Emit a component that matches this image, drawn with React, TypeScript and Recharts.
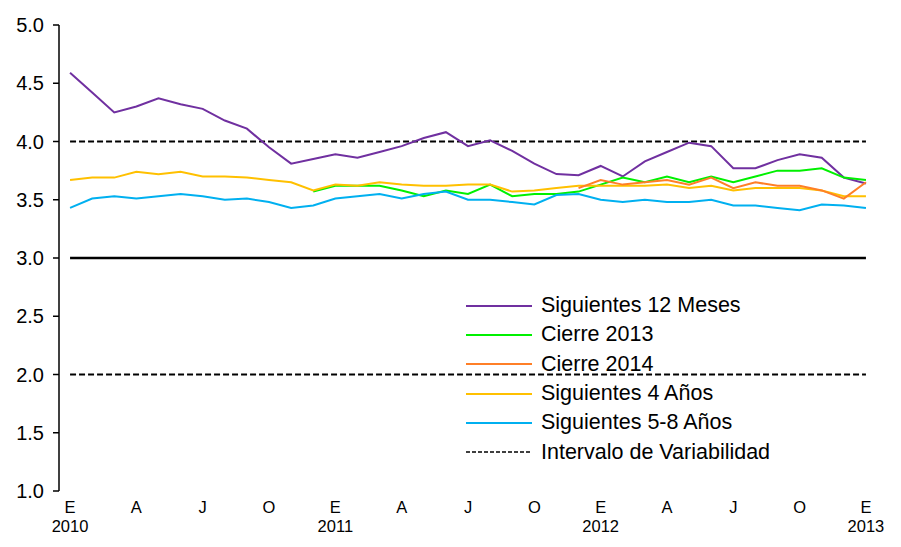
import React from 'react';
import { LineChart, Line, XAxis, YAxis } from 'recharts';

// Monthly categories, Jan 2010 .. Jan 2013
const months = [
  '2010-01','2010-02','2010-03','2010-04','2010-05','2010-06','2010-07','2010-08','2010-09','2010-10','2010-11','2010-12',
  '2011-01','2011-02','2011-03','2011-04','2011-05','2011-06','2011-07','2011-08','2011-09','2011-10','2011-11','2011-12',
  '2012-01','2012-02','2012-03','2012-04','2012-05','2012-06','2012-07','2012-08','2012-09','2012-10','2012-11','2012-12',
  '2013-01',
];

const siguientes12Meses = [
  4.59, 4.42, 4.25, 4.30, 4.37, 4.32, 4.28, 4.18, 4.11, 3.95, 3.81, 3.85,
  3.89, 3.86, 3.91, 3.96, 4.03, 4.08, 3.96, 4.01, 3.92, 3.81, 3.72, 3.71,
  3.79, 3.70, 3.83, 3.91, 3.99, 3.96, 3.77, 3.77, 3.84, 3.89, 3.86, 3.69,
  3.64,
];
const cierre2013 = [
  null, null, null, null, null, null, null, null, null, null, null, 3.57,
  3.62, 3.62, 3.62, 3.58, 3.53, 3.58, 3.55, 3.63, 3.53, 3.55, 3.55, 3.57,
  3.63, 3.69, 3.65, 3.70, 3.65, 3.70, 3.65, 3.70, 3.75, 3.75, 3.77, 3.69,
  3.67,
];
const cierre2014 = [
  null, null, null, null, null, null, null, null, null, null, null, null,
  null, null, null, null, null, null, null, null, null, null, null, 3.60,
  3.67, 3.63, 3.65, 3.67, 3.63, 3.69, 3.60, 3.65, 3.62, 3.62, 3.58, 3.51,
  3.65,
];
const siguientes4Anos = [
  3.67, 3.69, 3.69, 3.74, 3.72, 3.74, 3.70, 3.70, 3.69, 3.67, 3.65, 3.58,
  3.63, 3.62, 3.65, 3.63, 3.62, 3.62, 3.63, 3.63, 3.57, 3.58, 3.60, 3.62,
  3.62, 3.62, 3.62, 3.63, 3.60, 3.62, 3.58, 3.60, 3.60, 3.60, 3.58, 3.53,
  3.53,
];
const siguientes5a8Anos = [
  3.43, 3.51, 3.53, 3.51, 3.53, 3.55, 3.53, 3.50, 3.51, 3.48, 3.43, 3.45,
  3.51, 3.53, 3.55, 3.51, 3.55, 3.57, 3.50, 3.50, 3.48, 3.46, 3.54, 3.55,
  3.50, 3.48, 3.50, 3.48, 3.48, 3.50, 3.45, 3.45, 3.43, 3.41, 3.46, 3.45,
  3.43,
];

const metaInflacion = 3.0;
const intervaloSuperior = 4.0;
const intervaloInferior = 2.0;

const yTicks = [1.0, 1.5, 2.0, 2.5, 3.0, 3.5, 4.0, 4.5, 5.0];
const tickMarkPositions = [-0.5, 2.5, 5.5, 8.5, 11.5, 14.5, 17.5, 20.5, 23.5, 26.5, 29.5, 32.5, 35.5];
const labelPositions = [0, 3, 6, 9, 12, 15, 18, 21, 24, 27, 30, 33, 36];
const monthLabels = ['E', 'A', 'J', 'O', 'E', 'A', 'J', 'O', 'E', 'A', 'J', 'O', 'E'];
const yearLabels = ['2010', '', '', '', '2011', '', '', '', '2012', '', '', '', '2013'];

const data = months.map((m, i) => ({
  i,
  month: m,
  s12: siguientes12Meses[i],
  c13: cierre2013[i],
  c14: cierre2014[i],
  s4: siguientes4Anos[i],
  s58: siguientes5a8Anos[i],
  meta: metaInflacion,
  sup: intervaloSuperior,
  inf: intervaloInferior,
}));

const FONT = '"Liberation Sans", Arial, sans-serif';

const legendItems = [
  { name: 'Siguientes 12 Meses', color: '#7030A0', dash: undefined },
  { name: 'Cierre 2013', color: '#00F000', dash: undefined },
  { name: 'Cierre 2014', color: '#FF7F27', dash: undefined },
  { name: 'Siguientes 4 Años', color: '#FFC000', dash: undefined },
  { name: 'Siguientes 5-8 Años', color: '#00B0F0', dash: undefined },
  { name: 'Intervalo de Variabilidad', color: '#000000', dash: '4 2' },
];

const EmptyTick = () => <g />;

const MonthTick = (props: any) => {
  const { x, y, payload } = props;
  const k = labelPositions.indexOf(payload.value);
  return (
    <g>
      <text x={x} y={y + 22} textAnchor="middle" fontSize={16.5} fontFamily={FONT} fill="#000">
        {monthLabels[k]}
      </text>
      {yearLabels[k] ? (
        <text x={x} y={y + 41} textAnchor="middle" fontSize={16.5} fontFamily={FONT} fill="#000">
          {yearLabels[k]}
        </text>
      ) : null}
    </g>
  );
};

export default function App() {
  return (
    <div style={{ position: 'relative', width: 893, height: 539, fontFamily: FONT }}>
      <style>{'body{overflow:hidden}'}</style>
      <LineChart
        width={893}
        height={539}
        data={data}
        margin={{ top: 17, right: 24, bottom: 0, left: 0 }}
      >
        <XAxis
          xAxisId="ticks"
          dataKey="i"
          type="number"
          domain={[-0.5, 36.5]}
          allowDataOverflow
          ticks={tickMarkPositions}
          interval={0}
          tick={<EmptyTick />}
          tickSize={7}
          tickLine={{ stroke: '#000', strokeWidth: 1.5 }}
          axisLine={{ stroke: '#000', strokeWidth: 1.5 }}
          height={0}
        />
        <XAxis
          xAxisId="labels"
          dataKey="i"
          type="number"
          domain={[-0.5, 36.5]}
          allowDataOverflow
          ticks={labelPositions}
          interval={0}
          tick={<MonthTick />}
          tickLine={false}
          axisLine={false}
          tickSize={0}
          tickMargin={0}
          height={56}
        />
        <YAxis
          yAxisId="y"
          type="number"
          domain={[1, 5]}
          ticks={yTicks}
          interval={0}
          width={51}
          tickSize={6}
          tickMargin={9}
          tickFormatter={(v: number) => v.toFixed(1)}
          tick={{ fill: '#000', fontSize: 20, fontFamily: FONT }}
          tickLine={{ stroke: '#000', strokeWidth: 1.5 }}
          axisLine={{ stroke: '#000', strokeWidth: 1.5 }}
        />
        <Line xAxisId="labels" yAxisId="y" dataKey="meta" stroke="#000" strokeWidth={2.5} dot={false} activeDot={false} isAnimationActive={false} />
        <Line xAxisId="labels" yAxisId="y" dataKey="sup" stroke="#000" strokeWidth={1.8} strokeDasharray="6 3" dot={false} activeDot={false} isAnimationActive={false} />
        <Line xAxisId="labels" yAxisId="y" dataKey="inf" stroke="#000" strokeWidth={1.8} strokeDasharray="6 3" dot={false} activeDot={false} isAnimationActive={false} />
        <Line xAxisId="labels" yAxisId="y" dataKey="s12" stroke="#7030A0" strokeWidth={2} dot={false} activeDot={false} isAnimationActive={false} />
        <Line xAxisId="labels" yAxisId="y" dataKey="c13" stroke="#00F000" strokeWidth={2} dot={false} activeDot={false} isAnimationActive={false} />
        <Line xAxisId="labels" yAxisId="y" dataKey="s4" stroke="#FFC000" strokeWidth={2} dot={false} activeDot={false} isAnimationActive={false} />
        <Line xAxisId="labels" yAxisId="y" dataKey="c14" stroke="#FF7F27" strokeWidth={2} dot={false} activeDot={false} isAnimationActive={false} />
        <Line xAxisId="labels" yAxisId="y" dataKey="s58" stroke="#00B0F0" strokeWidth={2} dot={false} activeDot={false} isAnimationActive={false} />
      </LineChart>
      <svg
        width={893}
        height={20}
        style={{ position: 'absolute', left: 0, top: -8, overflow: 'visible', pointerEvents: 'none' }}
      >
        <text x={450} y={6} textAnchor="middle" fontSize={17} fontWeight="bold" fill="#1F3864" fontFamily={FONT}>
          Por ciento
        </text>
      </svg>
      <div style={{ position: 'absolute', left: 458, top: 283, pointerEvents: 'none' }}>
        {legendItems.map((it) => (
          <div key={it.name} style={{ display: 'flex', alignItems: 'center', height: 29.3 }}>
            <svg width={75} height={10} style={{ display: 'block' }}>
              <line x1={0} y1={5} x2={66} y2={5} stroke={it.color} strokeWidth={it.dash ? 1.5 : 2} strokeDasharray={it.dash} />
            </svg>
            <span style={{ fontSize: 21.5, color: '#000', whiteSpace: 'nowrap', lineHeight: '29px' }}>{it.name}</span>
          </div>
        ))}
      </div>
    </div>
  );
}
